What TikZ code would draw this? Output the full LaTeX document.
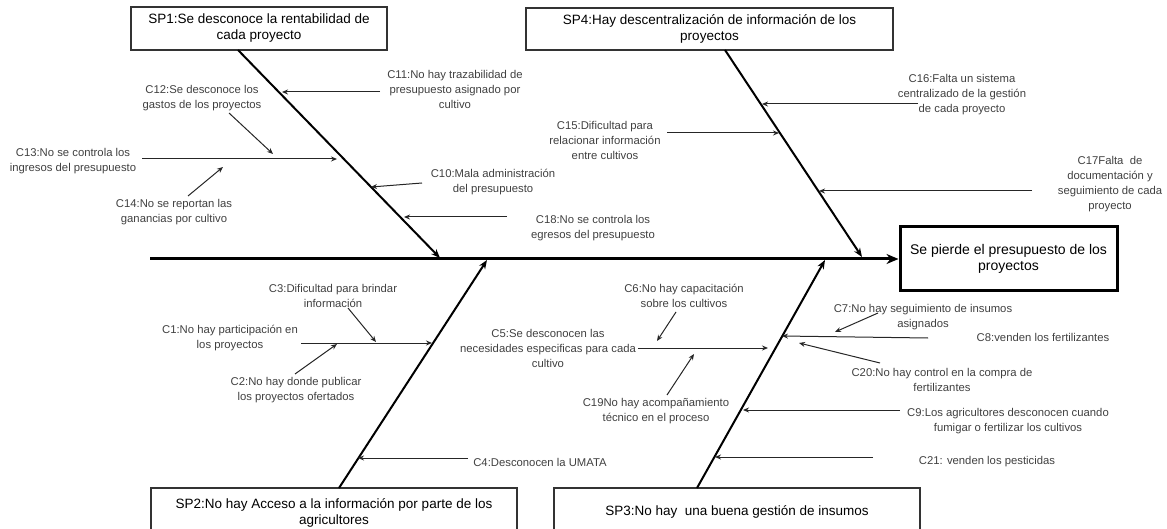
\documentclass[tikz,border=0pt]{standalone}
\usepackage{fontspec}
\setmainfont{Liberation Sans}
\usetikzlibrary{arrows.meta}
\begin{document}
\begin{tikzpicture}[x=1pt,y=-1pt,
  cause/.style={font=\fontsize{11.3}{15}\selectfont, text=black!75, align=center, inner sep=0pt},
  sub/.style={draw=black!85, line width=1pt, -{Stealth[length=6pt,width=5pt]}},
  bone/.style={draw=black, line width=2pt, -{Stealth[length=9pt,width=7pt]}},
  spbox/.style={draw=black!80, line width=1.8pt, font=\fontsize{13.5}{16}\selectfont, align=center, inner sep=0pt},
]
\useasboundingbox (0,0) rectangle (1167,529);

% effect and main categories
\node[spbox, draw=black, line width=3pt, font=\fontsize{14}{16}\selectfont,
      minimum width=217pt, minimum height=64pt] (eff) at (1008.5,259)
      {Se pierde el presupuesto de los\\proyectos};
\node[spbox, minimum width=256pt, minimum height=43pt] (sp1) at (259,28.5)
      {SP1:Se desconoce la rentabilidad de\\cada proyecto};
\node[spbox, minimum width=367pt, minimum height=42pt] (sp4) at (709.5,29)
      {SP4:Hay descentralización de información de los\\proyectos};
\node[spbox, minimum width=366pt, minimum height=50pt] (sp2) at (334,513)
      {SP2:No hay Acceso a la información por parte de los\\agricultores};
\node[spbox, minimum width=366pt, minimum height=48pt] (sp3) at (737,512)
      {SP3:No hay~ una buena gestión de insumos};

% spine
\coordinate (spL) at (150,259);
\draw[draw=black, line width=3pt, -{Stealth[length=12pt,width=10pt]}] (spL) -- (eff.west);

% bones
\coordinate (b1s) at (238,50);  \coordinate (b1e) at (440,258);
\coordinate (b4s) at (725,50);  \coordinate (b4e) at (862,257);
\coordinate (b2s) at (339,488); \coordinate (b2e) at (487,260);
\coordinate (b3s) at (697,488); \coordinate (b3e) at (825,260);
\draw[bone] (b1s) -- (b1e);
\draw[bone] (b4s) -- (b4e);
\draw[bone] (b2s) -- (b2e);
\draw[bone] (b3s) -- (b3e);

% cause labels
\node[cause] (l11) at (455,89) {C11:No hay trazabilidad de\\presupuesto asignado por\\cultivo};
\node[cause] (l12) at (202,98) {C12:Se desconoce los\\gastos de los proyectos};
\node[cause] (l13) at (73,161) {C13:No se controla los\\ingresos del presupuesto};
\node[cause] (l14) at (174,212) {C14:No se reportan las\\ganancias por cultivo};
\node[cause] (l10) at (493,182) {C10:Mala administración\\del presupuesto};
\node[cause] (l18) at (593,228) {C18:No se controla los\\egresos del presupuesto};
\node[cause] (l15) at (605,140) {C15:Dificultad para\\relacionar información\\entre cultivos};
\node[cause] (l16) at (962,95) {C16:Falta un sistema\\centralizado de la gestión\\de cada proyecto};
\node[cause] (l17) at (1110,184) {C17Falta~ de\\documentación y\\seguimiento de cada\\proyecto};
\node[cause] (l3) at (333,296) {C3:Dificultad para brindar\\información};
\node[cause] (l1) at (230,338) {C1:No hay participación en\\los proyectos};
\node[cause] (l2) at (296,390) {C2:No hay donde publicar\\los proyectos ofertados};
\node[cause] (l4) at (540,462) {C4:Desconocen la UMATA};
\node[cause] (l6) at (684,296) {C6:No hay capacitación\\sobre los cultivos};
\node[cause] (l5) at (548,348) {C5:Se desconocen las\\necesidades especificas para cada\\cultivo};
\node[cause] (l19) at (656,411) {C19No hay acompañamiento\\técnico en el proceso};
\node[cause] (l7) at (923,317) {C7:No hay seguimiento de insumos\\asignados};
\node[cause] (l8) at (1043,337) {C8:venden los fertilizantes};
\node[cause] (l20) at (942,380) {C20:No hay control en la compra de\\fertilizantes};
\node[cause] (l9) at (1008,421) {C9:Los agricultores desconocen cuando\\fumigar o fertilizar los cultivos};
\node[cause] (l21) at (987,462) {C21: venden los pesticidas};

% arrow end points
\coordinate (a11) at (380,92);  \coordinate (t11) at (282,92);
\coordinate (a12) at (229,113); \coordinate (t12) at (273,154);
\coordinate (a13) at (142,159); \coordinate (t13) at (337,159);
\coordinate (a14) at (188,196); \coordinate (t14) at (223,167);
\coordinate (a10) at (422,183); \coordinate (t10) at (371,187);
\coordinate (a18) at (507,217); \coordinate (t18) at (404,217);
\coordinate (a15) at (667,133); \coordinate (t15) at (779,133);
\coordinate (a16) at (918,104); \coordinate (t16) at (762,104);
\coordinate (a17) at (1032,191);\coordinate (t17) at (819,191);
\coordinate (a3) at (348,308);  \coordinate (t3) at (376,342);
\coordinate (a1) at (301,343);  \coordinate (t1) at (432,343);
\coordinate (a2) at (295,374);  \coordinate (t2) at (337,344);
\coordinate (a4) at (468,458);  \coordinate (t4) at (358,458);
\coordinate (a6) at (676,312);  \coordinate (t6) at (657,341);
\coordinate (a5) at (638,348);  \coordinate (t5) at (768,348);
\coordinate (a19) at (667,395); \coordinate (t19) at (694,354);
\coordinate (a7) at (878,313);  \coordinate (t7) at (835,332);
\coordinate (a8) at (928,338);  \coordinate (t8) at (782,336);
\coordinate (a20) at (880,363); \coordinate (t20) at (799,343);
\coordinate (a9) at (900,410);  \coordinate (t9) at (743,410);
\coordinate (a21) at (873,457); \coordinate (t21) at (715,457);

\foreach \k in {11,12,13,14,10,18,15,16,17,3,1,2,4,6,5,19,7,8,20,9,21}
  \draw[sub] (a\k) -- (t\k);
\end{tikzpicture}
\end{document}
